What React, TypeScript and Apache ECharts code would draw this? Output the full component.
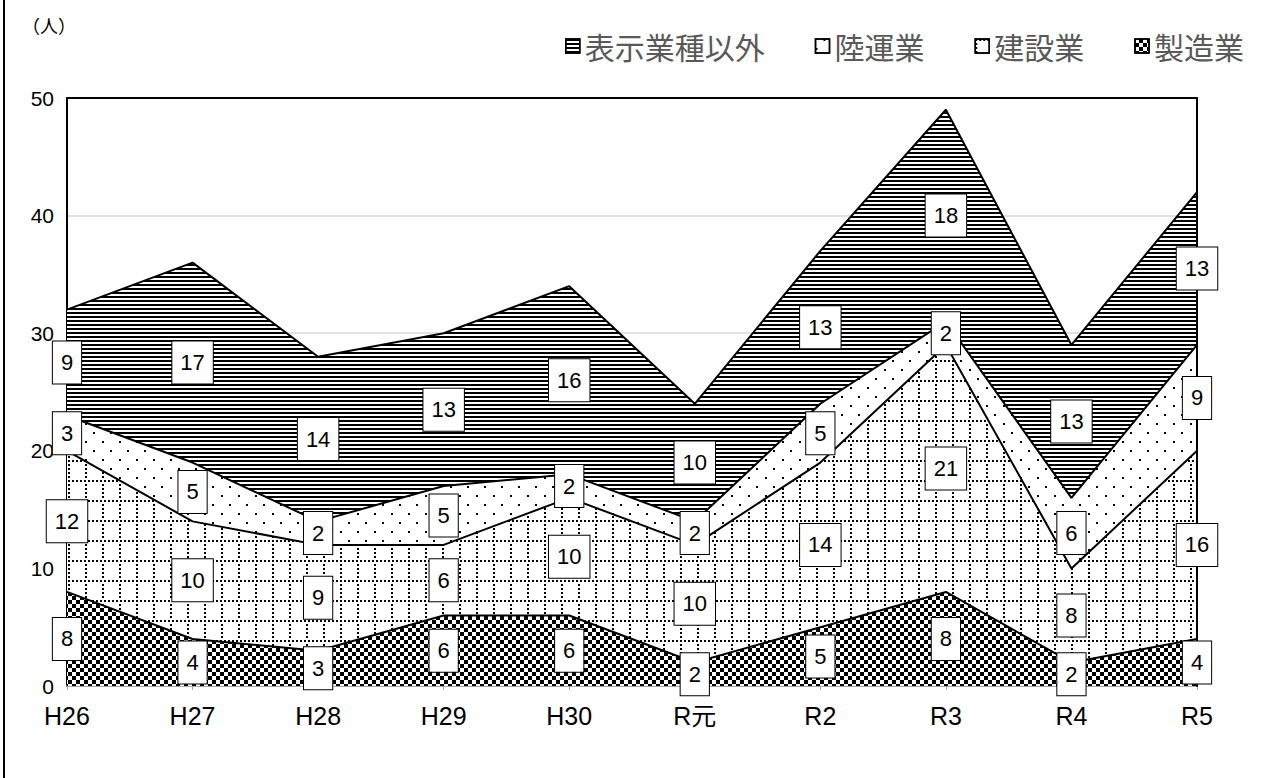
import React, { useEffect, useRef } from "react";
import * as echarts from "echarts";

const categories = ["H26", "H27", "H28", "H29", "H30", "R元", "R2", "R3", "R4", "R5"];
const manufacturing = [8, 4, 3, 6, 6, 2, 5, 8, 2, 4]; // 製造業
const construction = [12, 10, 9, 6, 10, 10, 14, 21, 8, 16]; // 建設業
const landTransport = [3, 5, 2, 5, 2, 2, 5, 2, 6, 9]; // 陸運業
const others = [9, 17, 14, 13, 16, 10, 13, 18, 13, 13]; // 表示業種以外
const seriesNames = ["製造業", "建設業", "陸運業", "表示業種以外"];
const legendOrder = ["表示業種以外", "陸運業", "建設業", "製造業"];
const yTicks = { min: 0, max: 50, interval: 10 };
const unitLabel = "（人）";

const decals: any[] = [
  {
    symbol: "rect",
    symbolSize: 1,
    color: "#000",
    backgroundColor: "#fff",
    dashArrayX: [[4, 4], [0, 4, 4, 0]],
    dashArrayY: [4, 0],
  },
  {
    symbol: "rect",
    symbolSize: 1,
    color: "#000",
    backgroundColor: "#fbfbfb",
    dashArrayX: [[1.2, 1.8], [1.2, 14.8], [1.2, 14.8], [1.2, 14.8], [1.2, 14.8]],
    dashArrayY: [1.2, 2, 1.2, 2, 1.2, 2, 1.2, 2, 1.2, 2],
  },
  {
    symbol: "rect",
    symbolSize: 1,
    color: "#000",
    backgroundColor: "#fff",
    dashArrayX: [[1.6, 14.4], [0, 8, 1.6, 6.4]],
    dashArrayY: [1.6, 6.4],
  },
  {
    symbol: "rect",
    symbolSize: 1,
    color: "#000",
    backgroundColor: "#fff",
    dashArrayX: [1, 0],
    dashArrayY: [1.5, 1.5],
  },
];

export default function App() {
  const ref = useRef<HTMLDivElement>(null);
  useEffect(() => {
    if (!ref.current) return;
    const chart = echarts.init(ref.current, null, { renderer: "svg" });
    const values = [manufacturing, construction, landTransport, others];

    const areaSeries = values.map((arr, i) => ({
      name: seriesNames[i],
      type: "line",
      stack: "total",
      data: arr,
      showSymbol: false,
      symbol: "none",
      z: 2,
      lineStyle: { color: "#000", width: 2 },
      itemStyle: { color: "#fff", borderColor: "#000", borderWidth: 1.5, decal: decals[i] },
      areaStyle: { color: "#fff", opacity: 1 },
      emphasis: { disabled: true },
    }));

    const labelSeries = values.map((arr, i) => ({
      name: seriesNames[i] + "_label",
      type: "scatter",
      z: 10,
      symbolSize: 0,
      itemStyle: { color: "#fff", opacity: 1 },
      data: arr.map((v, k) => {
        let below = 0;
        for (let j = 0; j < i; j++) below += values[j][k];
        return [categories[k], below + v / 2, v];
      }),
      label: {
        show: true,
        position: "inside",
        formatter: (p: any) => String(p.value[2]),
        color: "#000",
        opacity: 1,
        fontSize: 22,
        lineHeight: 24,
        fontFamily: "Liberation Sans, Arial, sans-serif",
        backgroundColor: "#ffffff",
        borderColor: "#000",
        borderWidth: 1,
        padding: [9, 8],
      },
      emphasis: { disabled: true },
    }));

    chart.setOption({
      animation: false,
      grid: {
        left: 67,
        right: 66,
        top: 98,
        bottom: 92,
        show: false,
      },
      legend: {
        data: legendOrder,
        right: 14,
        top: 26,
        icon: "rect",
        itemWidth: 14,
        itemHeight: 14,
        itemGap: 50,
        textStyle: {
          fontSize: 30,
          color: "#595959",
          fontFamily: "Noto Sans CJK JP, sans-serif",
          padding: [0, 0, 0, 0],
        },
        itemStyle: { borderColor: "#000", borderWidth: 1.5 },
        selectedMode: false,
      },
      xAxis: [
        {
          type: "category",
          data: categories,
          boundaryGap: false,
          axisLine: { lineStyle: { color: "#a6a6a6", width: 2 } },
          axisTick: { show: true, length: 4, lineStyle: { color: "#a6a6a6" } },
          axisLabel: {
            color: "#000",
            fontSize: 25,
            margin: 17,
            fontFamily: "Liberation Sans, Noto Sans CJK JP, sans-serif",
          },
        },
        {
          type: "category",
          data: categories,
          boundaryGap: false,
          position: "top",
          z: 5,
          axisLine: { show: true, onZero: false, lineStyle: { color: "#000", width: 2 } },
          axisTick: { show: false },
          axisLabel: { show: false },
          splitLine: { show: false },
        },
      ],
      yAxis: [
        {
          type: "value",
          min: yTicks.min,
          max: yTicks.max,
          interval: yTicks.interval,
          axisLine: { show: true, lineStyle: { color: "#000", width: 2 } },
          axisTick: { show: false },
          splitLine: { showMaxLine: false, lineStyle: { color: "#d9d9d9", width: 1.5 } },
          axisLabel: {
            color: "#000",
            fontSize: 21,
            margin: 13,
            fontFamily: "Liberation Sans, sans-serif",
          },
        },
        {
          type: "value",
          position: "right",
          min: yTicks.min,
          max: yTicks.max,
          interval: yTicks.interval,
          z: 5,
          axisLine: { show: true, onZero: false, lineStyle: { color: "#000", width: 2 } },
          axisTick: { show: false },
          axisLabel: { show: false },
          splitLine: { show: false },
        },
      ],
      graphic: [
        {
          type: "rect",
          shape: { x: 4, y: -3, width: 1270, height: 790 },
          style: { fill: "none", stroke: "#000", lineWidth: 2 },
          silent: true,
          z: 100,
        },
        {
          type: "text",
          left: 22,
          top: 16,
          style: {
            text: unitLabel,
            fontSize: 18,
            fill: "#000",
            fontFamily: "Noto Sans CJK JP, sans-serif",
          },
        },
      ],
      series: [...areaSeries, ...labelSeries],
    });
    return () => chart.dispose();
  }, []);
  return (
    <div
      ref={ref}
      style={{ position: "absolute", left: 0, top: 0, width: 1263, height: 778, background: "#fff" }}
    />
  );
}
